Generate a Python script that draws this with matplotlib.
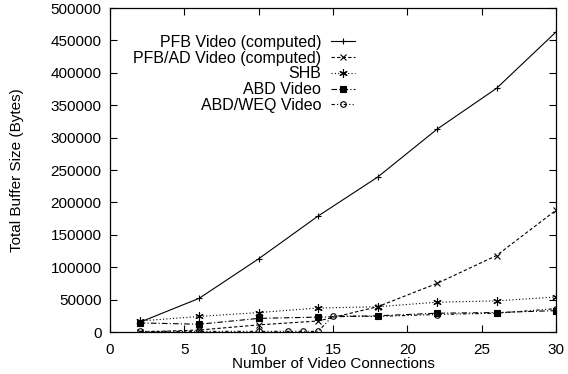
import matplotlib
matplotlib.use("Agg")
import matplotlib.pyplot as plt

plt.rcParams['font.family'] = ['Liberation Sans', 'DejaVu Sans']

connections = [2, 6, 10, 14, 18, 22, 26, 30]
pfb = [15000, 52000, 113000, 179000, 239000, 313000, 376000, 463000]
pfb_ad = [0, 3000, 11000, 17000, 39000, 75000, 118000, 188000]
shb = [17000, 24000, 30000, 37000, 39000, 46000, 48000, 54000]
abd = [14000, 12000, 21000, 23000, 25000, 29000, 30000, 33000]
weq_connections = [2, 6, 10, 12, 13, 14, 15, 18, 22, 26, 30]
abd_weq = [1000, 1000, 1000, 1000, 1000, 1000, 25000, 24000, 27000, 29000, 36000]

labels = ["PFB Video (computed)", "PFB/AD Video (computed)", "SHB",
          "ABD Video", "ABD/WEQ Video"]
x_ticks = [0, 5, 10, 15, 20, 25, 30]
y_ticks = list(range(0, 500001, 50000))

fig = plt.figure(figsize=(5.68, 3.74), dpi=100)
ax = fig.add_axes([110/568, 42/374, 446/568, 324/374])

lw = 0.8
ax.plot(connections, pfb, color='black', lw=lw, ls='-', marker='+', ms=5, mew=0.8, label=labels[0])
ax.plot(connections, pfb_ad, color='black', lw=lw, ls=(0, (3, 2)), marker='x', ms=4, mew=0.8, label=labels[1])
ax.plot(connections, shb, color='black', lw=lw, ls=(0, (1, 2)), marker=(6, 2, 0), ms=6, mew=0.8, label=labels[2])
ax.plot(connections, abd, color='black', lw=lw, ls=(0, (5, 2, 1, 2)), marker='s', ms=5, mew=0.8, label=labels[3])
ax.plot(weq_connections, abd_weq, color='black', lw=lw, ls=(0, (3, 2, 1, 2, 1, 2)), marker='o', ms=4,
        mfc='none', mew=0.8, label=labels[4])

ax.set_xlim(0, 30)
ax.set_ylim(0, 500000)
ax.set_xticks(x_ticks)
ax.set_yticks(y_ticks)
ax.tick_params(direction='in', top=True, right=True, length=5, width=0.8, labelsize=11, pad=6)
ax.tick_params(axis='x', pad=8)
ax.set_yticklabels([str(v) for v in y_ticks])
for s in ax.spines.values():
    s.set_linewidth(0.9)

ax.set_xlabel("Number of Video Connections", fontsize=11, labelpad=0)
ax.set_ylabel("Total Buffer Size (Bytes)", fontsize=11, labelpad=19)

leg = ax.legend(loc='upper right', bbox_to_anchor=(0.567, 0.942), markerfirst=False, frameon=False,
                fontsize=11.5, handlelength=1.5, handletextpad=0.6, labelspacing=0.05, borderpad=0)

fig.savefig("out.png", dpi=100)
